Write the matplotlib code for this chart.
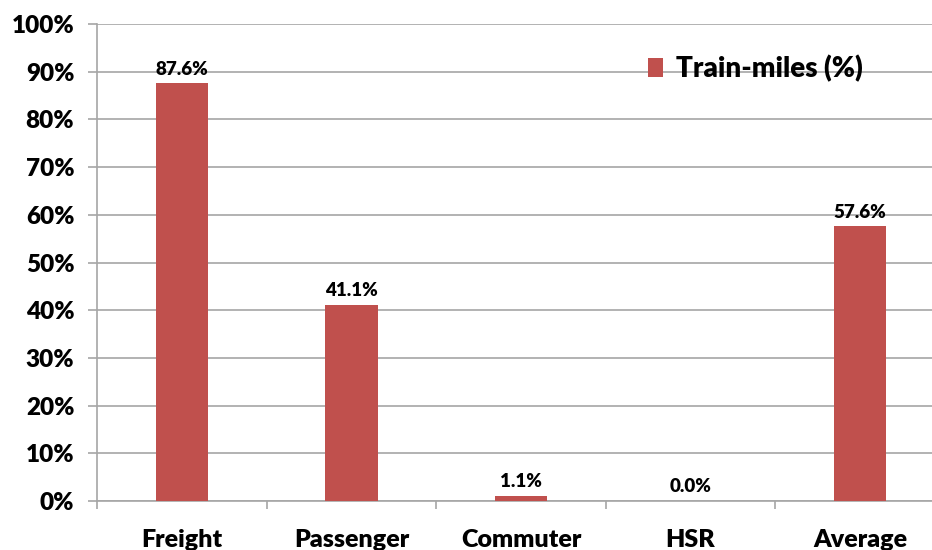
import matplotlib
matplotlib.use("Agg")
import matplotlib.pyplot as plt
from matplotlib.ticker import FixedLocator, PercentFormatter
from matplotlib.patches import Patch

categories = ["Freight", "Passenger", "Commuter", "HSR", "Average"]
values = [87.6, 41.1, 1.1, 0.0, 57.6]
series_name = "Train-miles (%)"
bar_color = "#C0504D"
yticks = list(range(0, 101, 10))

plt.rcParams['font.family'] = ['Lato', 'DejaVu Sans']
W = "heavy"

fig = plt.figure(figsize=(9.32, 5.5), dpi=100)
ax = fig.add_axes([97.25/932, 49/550, 847.5/932, 477/550])

x = list(range(len(categories)))
bars = ax.bar(x, values, width=0.307, color=bar_color, zorder=3)

ax.set_xlim(-0.5, len(categories) - 0.5)
ax.set_ylim(0, 100)
ax.set_yticks(yticks)
ax.yaxis.set_major_formatter(PercentFormatter(decimals=0))
ax.yaxis.grid(True, color="#A6A6A6", linewidth=1.2, zorder=0)
ax.set_axisbelow(True)

for s in ["top", "right"]:
    ax.spines[s].set_visible(False)
ax.spines["left"].set_color("#A6A6A6")
ax.spines["bottom"].set_color("#A6A6A6")
ax.spines["left"].set_linewidth(1.2)
ax.spines["bottom"].set_linewidth(1.2)

ax.tick_params(axis="y", length=6.5, color="#A6A6A6", width=1.2, pad=10, labelsize=17.5)
for lab in ax.get_yticklabels():
    lab.set_fontweight(W)

ax.set_xticks(x)
ax.set_xticklabels(categories, fontsize=18, fontweight=W)
ax.tick_params(axis="x", which="major", length=0, pad=20)
ax.xaxis.set_minor_locator(FixedLocator([i - 0.5 for i in range(len(categories) + 1)]))
ax.tick_params(axis="x", which="minor", length=6, color="#A6A6A6", width=1.2)

for xi, v in zip(x, values):
    ax.annotate(f"{v:.1f}%", (xi, v), xytext=(0, 4), textcoords="offset points",
                ha="center", va="bottom", fontsize=13.5, fontweight=W)

handle = Patch(facecolor=bar_color, edgecolor="none")
leg = fig.legend([handle], [series_name], loc="upper left",
                 bbox_to_anchor=(623/932, 1 - 30/550), frameon=False,
                 prop={"size": 20, "weight": W}, handlelength=0.55,
                 handleheight=0.7, handletextpad=0.45)

fig.savefig("out.png", dpi=100)
